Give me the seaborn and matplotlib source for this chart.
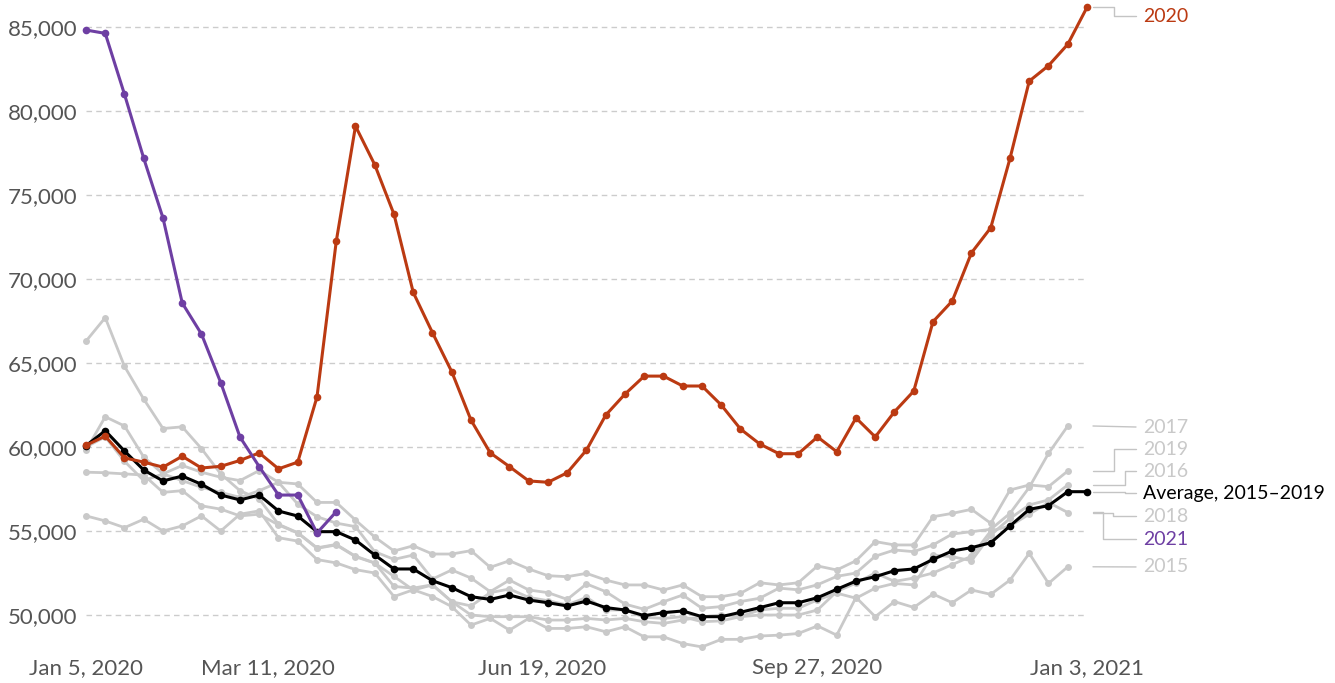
import numpy as np
import pandas as pd
import matplotlib as mpl
mpl.use("Agg")
import matplotlib.pyplot as plt
import matplotlib.transforms as mtransforms
import seaborn as sns

weeks = pd.date_range("2020-01-05", periods=53, freq="7D")

deaths_2020 = [60100, 60650, 59350, 59100, 58800, 59450, 58750, 58850, 59200, 59650,
               58700, 59100, 62980, 72240, 79100, 76800, 73850, 69200, 66800, 64480,
               61600, 59650, 58830, 57980, 57900, 58470, 59820, 61900, 63150, 64220,
               64220, 63630, 63630, 62500, 61070, 60180, 59600, 59600, 60600, 59720,
               61730, 60600, 62100, 63330, 67460, 68690, 71560, 73050, 77180, 81780,
               82700, 83970, 86170]

deaths_2021 = [84820, 84620, 80990, 77180, 73630, 68570, 66720, 63830, 60590, 58830,
               57140, 57140, 54880, 56150]

avg_2015_2019 = [60080, 60970, 59760, 58630, 57980, 58270, 57780, 57140, 56850, 57140,
                 56190, 55890, 54960, 54960, 54460, 53570, 52740, 52740, 52040, 51630,
                 51090, 50930, 51190, 50890, 50730, 50540, 50830, 50440, 50300, 49960,
                 50140, 50240, 49900, 49900, 50160, 50440, 50730, 50730, 51030, 51530,
                 52020, 52280, 52640, 52740, 53310, 53810, 54010, 54300, 55300, 56290,
                 56510, 57340, 57340]

deaths_2015 = [55900, 55600, 55200, 55700, 55000, 55300, 55900, 55000, 56000, 56200,
               54600, 54400, 53300, 53100, 52700, 52500, 51100, 51500, 51100, 50500,
               49400, 49800, 49100, 49800, 49200, 49200, 49300, 49000, 49300, 48700,
               48700, 48300, 48100, 48550, 48550, 48750, 48800, 48900, 49350, 48800,
               51050, 49900, 50800, 50450, 51250, 50730, 51490, 51230, 52080, 53670,
               51880, 52870]

deaths_2016 = [58500, 58470, 58400, 58330, 57300, 57400, 56500, 56300, 55900, 56000,
               55360, 54880, 53970, 54170, 53470, 53090, 52300, 51490, 51790, 50790,
               50540, 51330, 51550, 51050, 50850, 50600, 51050, 50300, 50300, 49860,
               49800, 49900, 49600, 49650, 49900, 50300, 50400, 50400, 50900, 51300,
               51000, 51600, 51880, 51790, 53570, 53470, 53230, 54760, 55750, 56550,
               56850, 57740]

deaths_2017 = [60000, 60600, 59150, 58000, 58400, 58000, 57600, 57300, 57000, 57400,
               57900, 56600, 55850, 55470, 55260, 53770, 53310, 53570, 52140, 52680,
               52200, 51390, 52080, 51490, 51330, 50930, 51850, 51390, 50650, 50340,
               50790, 51190, 50400, 50500, 50800, 51000, 51600, 51500, 51800, 52300,
               52500, 53500, 53870, 53770, 54170, 54820, 54960, 55100, 56050, 57600,
               59620, 61250]

deaths_2018 = [66300, 67700, 64800, 62850, 61100, 61200, 59900, 58400, 57400, 56900,
               55400, 54900, 54000, 54200, 53500, 53100, 51700, 51600, 51800, 50800,
               50000, 49900, 49900, 49900, 49700, 49700, 49800, 49700, 49800, 49600,
               49500, 49700, 49900, 50000, 49900, 50000, 50000, 50000, 50300, 51400,
               51900, 52500, 52000, 52200, 52500, 53000, 53500, 55000, 55300, 56000,
               56700, 56100]

deaths_2019 = [59800, 61800, 61250, 59400, 58400, 58900, 58500, 58200, 58000, 58600,
               57900, 57800, 56700, 56700, 55650, 54640, 53810, 54120, 53630, 53630,
               53830, 52840, 53230, 52740, 52340, 52280, 52480, 52080, 51790, 51790,
               51490, 51790, 51090, 51090, 51290, 51920, 51790, 51920, 52920, 52680,
               53230, 54370, 54170, 54170, 55850, 56050, 56290, 55460, 57440, 57740,
               57640, 58570]

tick_dates = pd.to_datetime(["2020-01-05", "2020-03-11", "2020-06-19",
                             "2020-09-27", "2021-01-03"])
y_ticks = [50000, 55000, 60000, 65000, 70000, 75000, 80000, 85000]

RED = "#BB3A12"
PURPLE = "#6E3FA3"
GREY = "#C9C9C9"
TXT = "#555555"

sns.set_style("white")
plt.rcParams["font.family"] = ["Lato", "DejaVu Sans"]

fig = plt.figure(figsize=(13.35, 6.83), dpi=100)
ax = fig.add_axes([86 / 1335, 35 / 683, 1001 / 1335, 648 / 683])

greys = {"2015": deaths_2015, "2016": deaths_2016, "2017": deaths_2017,
         "2018": deaths_2018, "2019": deaths_2019}
for name, vals in greys.items():
    sns.lineplot(x=weeks[:len(vals)], y=vals, color=GREY, linewidth=2,
                 marker="o", markersize=5, markeredgewidth=0, ax=ax, clip_on=False)

sns.lineplot(x=weeks, y=avg_2015_2019, color="black", linewidth=2.2,
             marker="o", markersize=5.5, markeredgewidth=0, ax=ax, clip_on=False)
sns.lineplot(x=weeks, y=deaths_2020, color=RED, linewidth=2.2,
             marker="o", markersize=5.5, markeredgewidth=0, ax=ax, clip_on=False)
sns.lineplot(x=weeks[:len(deaths_2021)], y=deaths_2021, color=PURPLE, linewidth=2.2,
             marker="o", markersize=5.5, markeredgewidth=0, ax=ax, clip_on=False)

ax.set_xlim(weeks[0], weeks[-1])
ax.set_ylim(48036, 86607)
ax.set_yticks(y_ticks)
ax.set_yticklabels([f"{v:,}" for v in y_ticks])
ax.set_xticks(tick_dates)
ax.set_xticklabels([f"{d:%b} {d.day}, {d.year}" for d in tick_dates])
ax.tick_params(axis="y", length=0, pad=6, labelsize=16, labelcolor=TXT)
ax.tick_params(axis="x", length=5, width=1, color="#bbbbbb", pad=2,
               labelsize=16, labelcolor=TXT, direction="out")
ax.yaxis.grid(True, linestyle=(0, (4, 3)), color="#cccccc", linewidth=1)
ax.xaxis.grid(False)
for s in ax.spines.values():
    s.set_visible(False)
ax.set_xlabel("")
ax.set_ylabel("")

# end labels with elbow leaders (x in pixels)
trans = mtransforms.blended_transform_factory(ax.transAxes, ax.transData)
px = lambda p: (p - 86) / 1001
labels = [
    ("2020", deaths_2020[-1], 85650, 1114, RED),
    ("2017", deaths_2017[-1], 61190, None, GREY),
    ("2019", deaths_2019[-1], 59880, 1114, GREY),
    ("2016", deaths_2016[-1], 58570, 1125, GREY),
    ("Average, 2015\u20132019", avg_2015_2019[-1], 57260, 1125, "black"),
    ("2018", deaths_2018[-1], 55890, 1113, GREY),
    ("2021", deaths_2021[-1], 54520, 1103, PURPLE),
    ("2015", deaths_2015[-1], 52860, None, GREY),
]
for text, y_end, y_lab, elbow, col in labels:
    if elbow is None:
        xs, ys = [1093, 1136], [y_end, y_lab]
    else:
        xs, ys = [1093, elbow, elbow, 1136], [y_end, y_end, y_lab, y_lab]
    ax.plot([px(x) for x in xs], ys, color="#c4c4c4", linewidth=1,
            transform=trans, clip_on=False)
    ax.text(px(1143), y_lab, text, color=col, fontsize=14, va="center",
            ha="left", transform=trans, clip_on=False)

fig.savefig("out.png", dpi=100)
